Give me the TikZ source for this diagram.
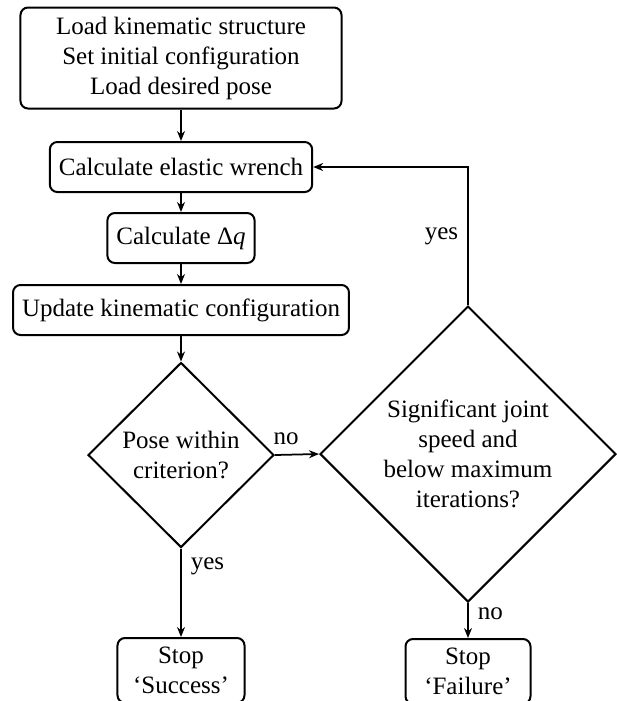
\documentclass[tikz,border=0pt]{standalone}
\usepackage{fontspec}
\setmainfont{Liberation Serif}
\usepackage{tikz}
\usetikzlibrary{
  positioning, shapes.geometric, arrows.meta, calc
}
\tikzset{
	stepbox/.style={draw=black, line width=0.8pt, rounded corners=3pt, align=center,
			inner sep=3.6pt, minimum height=20pt}
}
\tikzset{
	decisionbox/.style={draw=black, line width=0.8pt, diamond, aspect=1, align=center,
			inner sep=0pt}
}
\tikzset{
	flowarrow/.style={line width=0.7pt, -{Stealth[length=4pt,width=3.2pt]}}
}
\tikzset{
	branchtext/.style={font=\normalsize, inner sep=3.6pt}
}

\begin{document}
\begin{tikzpicture}[x=0.4pt, y=-0.4pt]
\useasboundingbox (0,0) rectangle (616,701);

\coordinate (cA) at (181,58);
\coordinate (cB) at (181,167);
\coordinate (cC) at (181,238);
\coordinate (cD) at (181,310);
\coordinate (cE) at (181,455);
\coordinate (cF) at (181,637);
\coordinate (cG) at (468,454);
\coordinate (cH) at (468,638);

\node[stepbox, minimum width=128.4pt, minimum height=40.4pt] (load) at (cA)
	{Load kinematic structure\\Set initial configuration\\Load desired pose};
\node[stepbox] (wrench) at (cB) {Calculate elastic wrench};
\node[stepbox] (deltaq) at (cC) {Calculate Δ\textit{q}};
\node[stepbox] (update) at (cD) {Update kinematic configuration};
\node[decisionbox, minimum width=74.4pt, minimum height=74pt] (pose) at (cE)
	{Pose within\\criterion?};
\node[stepbox, minimum width=50.8pt, anchor=north] (success) at (cF)
	{Stop\\`Success'};
\node[decisionbox, minimum width=118.4pt, minimum height=118.4pt] (speed) at (cG)
	{Significant joint\\speed and\\below maximum\\iterations?};
\node[stepbox, minimum width=50pt, anchor=north] (failure) at (cH)
	{Stop\\`Failure'};

\draw[flowarrow] (load) -- (wrench);
\draw[flowarrow] (wrench) -- (deltaq);
\draw[flowarrow] (deltaq) -- (update);
\draw[flowarrow] (update) -- (pose);
\draw[flowarrow] (pose.south) -- node[branchtext, pos=0.2, anchor=west] {yes} (success.north);
\draw[flowarrow] (pose.east) -- node[branchtext, pos=0.25, anchor=south] {no} (speed.west);
\draw[flowarrow] (speed.north) |- node[branchtext, pos=0.25, anchor=east] {yes} (wrench.east);
\draw[flowarrow] (speed.south) -- node[branchtext, pos=0.3, anchor=west] {no} (failure.north);

\end{tikzpicture}
\end{document}
